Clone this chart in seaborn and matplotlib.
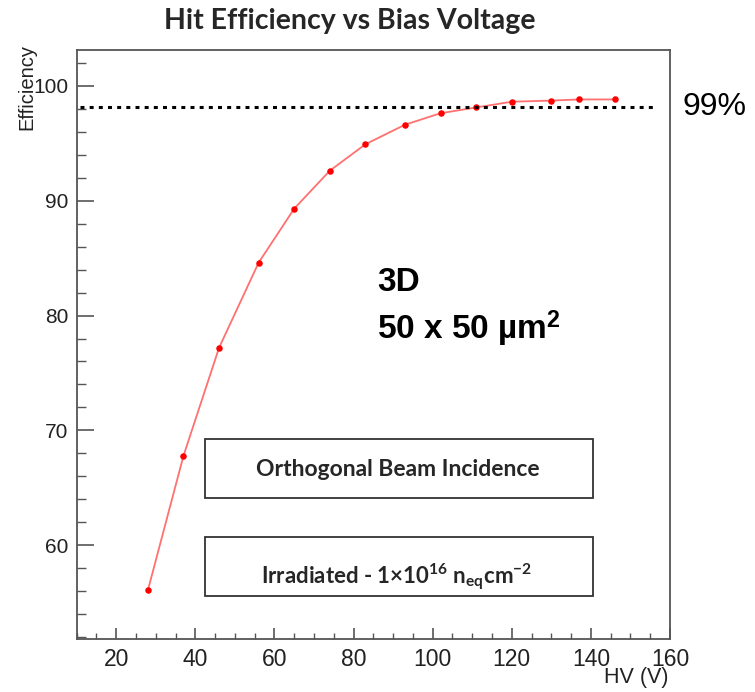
import matplotlib
matplotlib.use("Agg")
import matplotlib.pyplot as plt
from matplotlib.patches import Rectangle
from matplotlib.ticker import MultipleLocator
import seaborn as sns
import pandas as pd

# ---- data ----
hv_volts = [28, 37, 46, 56, 65, 74, 83, 93, 102, 111, 120, 130, 137, 146]
efficiency = [56.1, 67.8, 77.2, 84.6, 89.3, 92.6, 94.9, 96.6, 97.6, 98.1, 98.6, 98.7, 98.8, 98.8]
ref_level = 98.15
ref_label = "99%"
title_text = "Hit Efficiency vs Bias Voltage"
x_label = "HV (V)"
y_label = "Efficiency"
sensor_text = "3D\n50 x 50 µm$^{\\mathbf{2}}$"
box1_text = "Orthogonal Beam Incidence"
box2_text = r"Irradiated - 1×10$^{16}$ n$_{eq}$cm$^{-2}$"

df = pd.DataFrame({"HV": hv_volts, "Eff": efficiency})

sns.set_theme(style="white")
plt.rcParams["font.family"] = ["Liberation Sans", "DejaVu Sans"]
plt.rcParams["mathtext.fontset"] = "custom"
plt.rcParams["mathtext.rm"] = "Lato:bold"
plt.rcParams["mathtext.it"] = "Lato:bold"
plt.rcParams["mathtext.bf"] = "Lato:bold"

W, H = 755, 692
fig = plt.figure(figsize=(W / 100, H / 100), dpi=100)
ax_l, ax_r, ax_t, ax_b = 76.7, 670, 50, 638.5
ax = fig.add_axes([ax_l / W, 1 - ax_b / H, (ax_r - ax_l) / W, (ax_b - ax_t) / H])

sns.lineplot(data=df, x="HV", y="Eff", ax=ax, color="#ff4040", alpha=0.75,
             linewidth=1.3, zorder=3)
sns.scatterplot(data=df, x="HV", y="Eff", ax=ax, color="#ff0000", s=22,
                linewidth=0, zorder=4)

ax.set_xlim(10, 160)
ax.set_ylim(51.9, 103.1)

# reference dotted line
ax.axhline(ref_level, xmin=0.006, xmax=0.974, color="black", linewidth=2.2,
           linestyle=(0, (1.3, 1.7)), dash_capstyle="butt", zorder=5)

spine_col = "#555555"
for s in ax.spines.values():
    s.set_color(spine_col)
    s.set_linewidth(1.3)

ax.xaxis.set_major_locator(MultipleLocator(20))
ax.xaxis.set_minor_locator(MultipleLocator(5))
ax.yaxis.set_major_locator(MultipleLocator(10))
ax.yaxis.set_minor_locator(MultipleLocator(2))
ax.tick_params(axis="x", which="major", direction="in", length=8, width=1.2,
               color=spine_col, labelsize=16.5, pad=7, labelcolor="#222222",
               bottom=True, top=False)
ax.tick_params(axis="x", which="minor", direction="in", length=4.5, width=1.0,
               color=spine_col, bottom=True, top=False)
ax.tick_params(axis="y", which="major", direction="in", length=12, width=1.2,
               color=spine_col, labelsize=15, pad=6, labelcolor="#222222",
               left=True, right=False)
ax.tick_params(axis="y", which="minor", direction="in", length=6.5, width=1.0,
               color=spine_col, left=True, right=False)

ax.set_xlabel("")
ax.set_ylabel("")
fig.text(668 / W, 1 - 677 / H, x_label, ha="right", va="center",
         fontsize=15.5, color="#222222")
fig.text(27 / W, 1 - 44 / H, y_label, ha="center", va="top", rotation=90,
         fontsize=14.5, color="#222222")

# title
fig.text(350 / W, 1 - 21 / H, title_text, ha="center", va="center",
         fontsize=20.5, fontweight="bold", family=["Lato", "DejaVu Sans"])

# 99% label
fig.text(683 / W, 1 - 107 / H, ref_label, ha="left", va="center", fontsize=23,
         color="black")

# sensor text
plt.rcParams["mathtext.bf"] = "Liberation Sans:bold"
fig.text(377 / W, 1 - 308 / H, sensor_text, ha="left", va="center",
         fontsize=24, fontweight="bold", linespacing=1.35, color="black")

# boxes
box_col = "#333333"
fig.patches.append(Rectangle((205 / W, 1 - 498 / H), (593 - 205) / W, (498 - 439) / H,
                             transform=fig.transFigure, fill=False,
                             edgecolor=box_col, linewidth=1.3))
fig.patches.append(Rectangle((205 / W, 1 - 596 / H), (593 - 205) / W, (596 - 537) / H,
                             transform=fig.transFigure, fill=False,
                             edgecolor=box_col, linewidth=1.3))
fig.text(398 / W, 1 - 470 / H, box1_text, ha="center", va="center",
         fontsize=16.5, fontweight="bold", family=["Lato", "DejaVu Sans"])
fig.text(397 / W, 1 - 577 / H, box2_text, ha="center", va="center",
         fontsize=16, fontweight="bold", family=["Lato", "DejaVu Sans"])

fig.savefig("out.png", dpi=100)
